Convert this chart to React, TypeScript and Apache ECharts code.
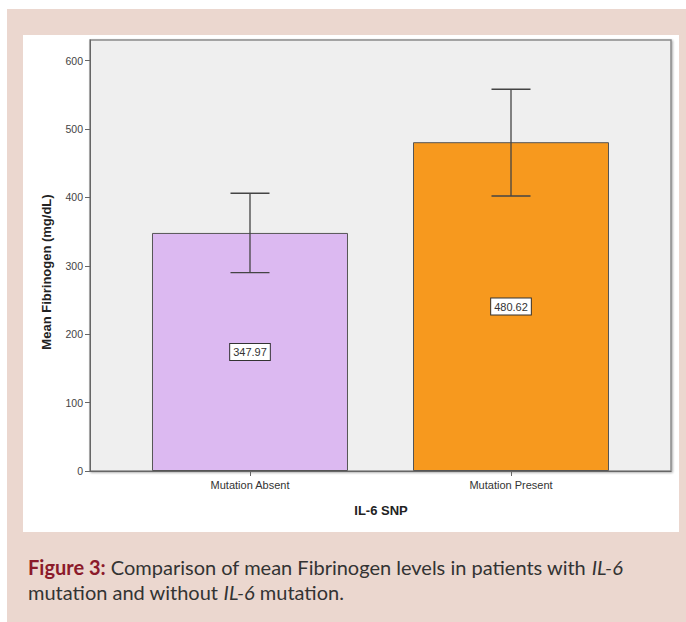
import React, { useEffect, useRef } from "react";
import * as echarts from "echarts";

const categories = ["Mutation Absent", "Mutation Present"];
const meanValues = [347.97, 480.62];
const ciLow = [290, 402];
const ciHigh = [406, 558];
const barColors = ["#dcb9f1", "#f7991e"];
const yTicks = [0, 100, 200, 300, 400, 500, 600];

export default function App() {
  const ref = useRef<HTMLDivElement>(null);
  useEffect(() => {
    if (!ref.current) return;
    const chart = echarts.init(ref.current, undefined, { renderer: "svg" });
    const font = "Liberation Sans";
    chart.setOption({
      animation: false,
      backgroundColor: "#ffffff",
      graphic: [
        { type: "rect", z: -10, silent: true, shape: { x: 7, y: 9, width: 679, height: 613 }, style: { fill: "#ebd7cf" } },
        { type: "rect", z: -9, silent: true, shape: { x: 23, y: 35, width: 656, height: 497 }, style: { fill: "#ffffff" } },
        {
          type: "text",
          x: 46,
          y: 272,
          rotation: Math.PI / 2,
          style: {
            text: "Mean Fibrinogen (mg/dL)",
            font: `bold 13px "${font}"`,
            fill: "#222",
            align: "center",
            verticalAlign: "middle",
          },
        },
        {
          type: "text",
          x: 381,
          y: 510,
          style: {
            text: "IL-6 SNP",
            font: `bold 13px "${font}"`,
            fill: "#222",
            align: "center",
            verticalAlign: "middle",
          },
        },
        {
          type: "text",
          x: 28,
          y: 554,
          style: {
            text: "{b|Figure 3:} Comparison of mean Fibrinogen levels in patients with {i|IL-6}\nmutation and without {i|IL-6} mutation.",
            fontFamily: "Lato",
            fontSize: 20,
            fill: "#333333",
            lineHeight: 25,
            rich: {
              b: { fontFamily: "Lato", fontSize: 20, fontWeight: "bold", fill: "#8b1a2b", color: "#8b1a2b", lineHeight: 25 },
              i: { fontFamily: "Lato", fontSize: 20, fontStyle: "italic", fill: "#333333", color: "#333333", lineHeight: 25 },
            },
          },
        },
      ],
      grid: {
        left: 90,
        right: 15,
        top: 40,
        bottom: 151,
        show: true,
        backgroundColor: "#efefef",
        borderColor: "#8a8a8a",
        borderWidth: 1.5,
        shadowBlur: 2,
        shadowColor: "rgba(0,0,0,0.35)",
        shadowOffsetX: 1,
        shadowOffsetY: 1,
      },
      xAxis: {
        type: "value",
        min: -0.613,
        max: 1.613,
        splitLine: { show: false },
        axisLine: { show: true, lineStyle: { color: "#666", width: 1 } },
        axisTick: { show: true, length: 5, customValues: [0, 1], lineStyle: { color: "#666" } },
        axisLabel: {
          customValues: [0, 1],
          formatter: (v: number) => categories[Math.round(v)] ?? "",
          color: "#333",
          fontSize: 11,
          fontFamily: font,
          margin: 8,
        },
      },
      yAxis: {
        type: "value",
        min: 0,
        max: 630,
        splitLine: { show: false },
        axisLine: { show: true, onZero: false, lineStyle: { color: "#666", width: 1 } },
        axisTick: { show: true, length: 5, customValues: yTicks, lineStyle: { color: "#666" } },
        axisLabel: {
          customValues: yTicks,
          color: "#444",
          fontSize: 10.5,
          fontFamily: font,
          margin: 7,
        },
      },
      series: [
        {
          type: "bar",
          barWidth: 196,
          data: meanValues.map((v, i) => ({
            value: [i, v],
            itemStyle: { color: barColors[i], borderColor: "#555", borderWidth: 1 },
          })),
          label: {
            show: true,
            position: "inside",
            formatter: (p: any) => p.value[1].toFixed(2),
            backgroundColor: "#ffffff",
            borderColor: "#333",
            borderWidth: 1,
            padding: [3, 3, 2, 3],
            color: "#333",
            fontSize: 11,
            fontFamily: font,
          },
        },
        {
          type: "custom",
          z: 5,
          data: ciLow.map((lo, i) => [i, lo, ciHigh[i]]),
          encode: { x: 0, y: [1, 2] },
          renderItem: (params: any, api: any) => {
            const x = api.value(0);
            const lo = api.coord([x, api.value(1)]);
            const hi = api.coord([x, api.value(2)]);
            const half = 19.5;
            const style = { stroke: "#444", lineWidth: 1.3 };
            return {
              type: "group",
              children: [
                { type: "line", shape: { x1: lo[0], y1: lo[1], x2: hi[0], y2: hi[1] }, style },
                { type: "line", shape: { x1: lo[0] - half, y1: lo[1], x2: lo[0] + half, y2: lo[1] }, style },
                { type: "line", shape: { x1: hi[0] - half, y1: hi[1], x2: hi[0] + half, y2: hi[1] }, style },
              ],
            };
          },
        },
      ],
    });
    return () => chart.dispose();
  }, []);
  return (
    <div
      ref={ref}
      style={{ position: "fixed", left: 0, top: 0, width: 686, height: 622 }}
    />
  );
}
